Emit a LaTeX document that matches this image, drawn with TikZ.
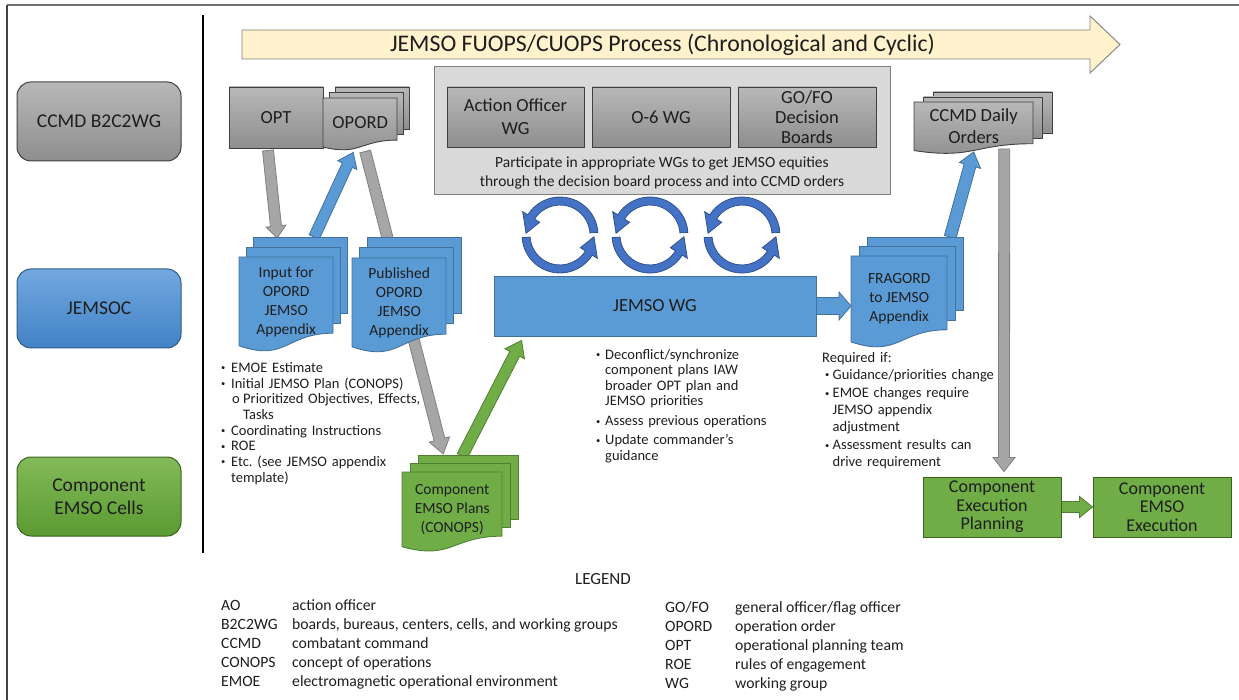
\documentclass[tikz,border=0pt]{standalone}
\usepackage{fontspec}
\setmainfont{Carlito}
\usepackage{graphicx}
\usetikzlibrary{calc}
\pgfdeclarelayer{back}
\pgfsetlayers{back,main}
\frenchspacing

\definecolor{ink}{HTML}{1E1E1E}
\definecolor{frameln}{HTML}{707070}
\definecolor{grayhi}{HTML}{B8B8B8}
\definecolor{graylo}{HTML}{8E8E8E}
\definecolor{grayedge}{HTML}{404040}
\definecolor{bluehi}{HTML}{72A8DF}
\definecolor{bluelo}{HTML}{4282C6}
\definecolor{blueedge}{HTML}{2E5C8A}
\definecolor{bluefill}{HTML}{5B9BD5}
\definecolor{blueline}{HTML}{41719C}
\definecolor{greenhi}{HTML}{82BA58}
\definecolor{greenlo}{HTML}{5C9A32}
\definecolor{greenedge}{HTML}{3B6320}
\definecolor{greenfill}{HTML}{70AD47}
\definecolor{greenline}{HTML}{507E32}
\definecolor{arrowgray}{HTML}{A6A6A6}
\definecolor{arrowgrayln}{HTML}{7F7F7F}
\definecolor{banner}{HTML}{FFF2CC}
\definecolor{panel}{HTML}{D9D9D9}
\definecolor{loopfill}{HTML}{4472C4}
\definecolor{loopline}{HTML}{2F528F}

\newcommand\fs[2]{\fontsize{#1}{#2}\selectfont}
\newcommand\bul{\raisebox{1.6pt}{\fs{8.5}{8.5}\textbullet}}
% bullet item: #1 lead space, #2 bullet box width, #3 text (lines split with \break)
\newcommand\bitemx[3]{\par\noindent\hangindent=\dimexpr#1+#2\relax\hangafter=1\hspace*{#1}\makebox[#2][l]{\bul}#3\par}
\newcommand\subitemx[1]{\par\noindent\hangindent=22pt\hangafter=1\hspace*{11pt}\makebox[11pt][l]{o}#1\par}

% one document page with a wavy lower edge: style, x, y, w, h
\newcommand\docpage[5]{%
  \pgfmathsetmacro\dpr{#2+#4}%
  \pgfmathsetmacro\dpm{#2+0.5*#4}%
  \pgfmathsetmacro\dpa{#3+0.802*#5}%
  \pgfmathsetmacro\dpb{#3+1.107*#5}%
  \pgfmathsetmacro\dpc{#3+0.934*#5}%
  \path[#1] (#2,#3) -- (\dpr,#3) -- (\dpr,\dpa) .. controls (\dpm,\dpa) and (\dpm,\dpb) .. (#2,\dpc) -- cycle;}
\def\mdsplit#1/#2\relax{\def\mddx{#1}\def\mddy{#2}}
% stack of three pages: name, page style, text style, x, y, w, h, dx/dy, text
\newcommand\multidoc[9]{%
  \mdsplit#8\relax
  \foreach \k in {2,1}{%
    \pgfmathsetmacro\mdx{#4+\k*\mddx}%
    \pgfmathsetmacro\mdy{#5-\k*\mddy}%
    \pgfmathsetmacro\mdr{0.802*#7}%
    \path[#2] (\mdx,\mdy) rectangle ++(#6,\mdr);
  }
  \docpage{#2}{#4}{#5}{#6}{#7}
  \node[#3, minimum width=#6, minimum height=0.934*#7, anchor=north west] (#1) at (#4,#5) {#9};
}
% block arrow: style, tail, tip, shaft half width, head half width, head length
\newcommand\blockarrow[6]{%
  \coordinate (ba-t) at (#2);
  \coordinate (ba-p) at (#3);
  \coordinate (ba-h) at ($(ba-p)!#6!(ba-t)$);
  \path[#1] ($(ba-t)!#4!90:(ba-p)$) -- ($(ba-h)!#4!90:(ba-p)$) -- ($(ba-h)!#5!90:(ba-p)$)
    -- (ba-p) -- ($(ba-h)!#5!-90:(ba-p)$) -- ($(ba-h)!#4!-90:(ba-p)$) -- ($(ba-t)!#4!-90:(ba-p)$) -- cycle;
}
% pair of curved arrows forming a cycle around a centre
\newcommand\cyclearrows[1]{%
  \begin{scope}[shift={(#1)}]
    \path[loopband] (-4:38) arc[start angle=-4, end angle=-148, radius=38] -- (-148:44) -- (-177:34)
      -- (-148:24) -- (-148:30) arc[start angle=-148, end angle=-4, radius=30] -- cycle;
    \path[loopband] (176:38) arc[start angle=176, end angle=32, radius=38] -- (32:44) -- (3:34)
      -- (32:24) -- (32:30) arc[start angle=32, end angle=176, radius=30] -- cycle;
  \end{scope}}

\tikzset{
  txt/.style={text=ink, inner sep=0pt, align=center},
  lanebox/.style={txt, rounded corners=14pt, minimum width=164, minimum height=79, line width=1pt, font=\fs{19.5}{23}},
  lanegray/.style={lanebox, draw=grayedge, top color=grayhi, bottom color=graylo},
  laneblue/.style={lanebox, draw=blueedge, top color=bluehi, bottom color=bluelo},
  lanegreen/.style={lanebox, draw=greenedge, top color=greenhi, bottom color=greenlo},
  graybox/.style={txt, draw=grayedge, line width=0.9pt, top color=grayhi, bottom color=graylo, minimum width=137, minimum height=60, font=\fs{18.5}{20}},
  greenbox/.style={txt, draw=greenedge, line width=0.9pt, fill=greenfill, minimum width=138, minimum height=60, font=\fs{18}{18.5}},
  graypage/.style={draw=grayedge, line width=0.9pt, top color=grayhi, bottom color=graylo},
  bluepage/.style={draw=blueline, line width=0.9pt, fill=bluefill},
  greenpage/.style={draw=greenline, line width=0.9pt, fill=greenfill},
  doctext/.style={txt, font=\fs{15.5}{19}},
  docbig/.style={txt, font=\fs{18.5}{22}},
  arrgray/.style={draw=arrowgrayln, fill=arrowgray, line width=0.8pt},
  arrblue/.style={draw=blueline, fill=bluefill, line width=0.8pt},
  arrgreen/.style={draw=greenline, fill=greenfill, line width=0.8pt},
  loopband/.style={draw=loopline, fill=loopfill, line width=0.8pt},
  notes/.style={text=ink, inner sep=0pt, align=left, anchor=north west, font=\fs{14.5}{15.7}},
  legendtxt/.style={text=ink, inner sep=0pt, anchor=north west, font=\fs{15.7}{19}},
}

\begin{document}
\begin{tikzpicture}[x=1pt,y=-1pt]
\useasboundingbox (0,0) rectangle (1239,700);

% frame and lane divider
\draw[frameln, line width=1.6pt] (7,5) -- (1239,5);
\draw[frameln!60!black, line width=1.6pt] (7,5) -- (7,700);
\draw[black, line width=1.6pt] (203,15) -- (203,553);

% lane labels
\node[lanegray] (lane-ccmd) at (99,121.5) {CCMD B2C2WG};
\node[laneblue] (lane-jemsoc) at (99,308.5) {JEMSOC};
\node[lanegreen] (lane-cells) at (99,496.5) {Component\\EMSO Cells};

% process banner
\path[draw=arrowgrayln, fill=banner, line width=0.9pt] (242,30) -- (1090,30) -- (1090,16) -- (1120,44.5)
  -- (1090,73) -- (1090,59) -- (242,59) -- cycle;
\node[txt, font=\fs{23.8}{26}] (banner) at (662.5,44.5) {JEMSO FUOPS/CUOPS Process (Chronological and Cyclic)};

% working group panel
\node[draw=arrowgrayln, fill=panel, line width=1pt, minimum width=456, minimum height=128, inner sep=0pt] (panel) at (662,131) {};
\node[graybox] (aowg) at (515.5,117) {Action Officer\\[3pt]WG};
\node[graybox, minimum width=138] (o6wg) at (661,117) {O-6 WG};
\node[graybox, minimum width=138] (gofo) at (807,117) {GO/FO\\Decision\\Boards};
\node[txt, font=\fs{15.5}{19}] (participate) at (662,173) {Participate in appropriate WGs to get JEMSO equities\\through the decision board process and into CCMD orders};

% cycles between the panel and the JEMSO WG
\foreach \n/\cx in {A/560, B/650, C/742} {
  \coordinate (cyc\n) at (\cx,235);
  \cyclearrows{cyc\n}
}

% JEMSO WG bar
\node[txt, draw=blueline, fill=bluefill, line width=0.9pt, minimum width=322, minimum height=60, font=\fs{18.5}{22}] (jemsowg) at (655,306) {JEMSO WG};

% OPT and documents
\node[graybox, minimum width=94, minimum height=61] (opt) at (276,117.5) {OPT};
\multidoc{opord}{graypage}{docbig}{323}{98}{74}{52.5}{6/5.5}{OPORD}
\multidoc{input}{bluepage}{doctext}{239}{257}{94}{95}{7/10}{Input for\\OPORD\\JEMSO\\Appendix}
\multidoc{published}{bluepage}{doctext}{352}{258}{94}{95}{7.5/10.5}{Published\\OPORD\\JEMSO\\Appendix}
\multidoc{fragord}{bluepage}{doctext}{851}{256}{96}{92}{8/9.5}{FRAGORD\\to JEMSO\\Appendix}
\multidoc{daily}{graypage}{docbig}{914}{102}{119}{52}{9.5/5}{CCMD Daily\\Orders}
\multidoc{plans}{greenpage}{doctext}{402}{472}{100}{80}{8/8.5}{Component\\EMSO Plans\\(CONOPS)}

% component execution
\node[greenbox] (execplan) at (992,507) {Component\\Execution\\Planning};
\node[greenbox] (execution) at (1162,507) {Component\\EMSO\\Execution};

% notes
\node[notes, text width=260pt] (notes-appx) at (221,356.5) {%
  \bitemx{0pt}{10pt}{EMOE Estimate}%
  \bitemx{0pt}{10pt}{Initial JEMSO Plan (CONOPS)}%
  \subitemx{Prioritized Objectives, Effects,\break Tasks}%
  \bitemx{0pt}{10pt}{Coordinating Instructions}%
  \bitemx{0pt}{10pt}{ROE}%
  \bitemx{0pt}{10pt}{Etc. (see JEMSO appendix\break template)}};
\node[notes, text width=200pt, font=\fs{14.5}{15.5}] (notes-wg) at (596,343.5) {%
  \bitemx{0pt}{9pt}{Deconflict/synchronize\break component plans IAW\break broader OPT plan and\break JEMSO priorities}%
  \vspace{4.5pt}%
  \bitemx{0pt}{9pt}{Assess previous operations}%
  \vspace{3.5pt}%
  \bitemx{0pt}{9pt}{Update commander’s\break guidance}};
\node[notes, text width=200pt, font=\fs{14.5}{17}] (notes-frag) at (822,352) {%
  \noindent Required if:\par
  \bitemx{3pt}{7.5pt}{Guidance/priorities change}%
  \vspace{1.5pt}%
  \bitemx{3pt}{7.5pt}{EMOE changes require\break JEMSO appendix\break adjustment}%
  \vspace{1pt}%
  \bitemx{3pt}{7.5pt}{Assessment results can\break drive requirement}};

% legend
\node[txt, font=\fs{17}{19}] (legend) at (603,579) {LEGEND};
\node[legendtxt] (legend-a) at (221,597) {\begin{tabular}{@{}p{71pt}@{}l@{}}
  AO & action officer\\
  B2C2WG & boards, bureaus, centers, cells, and working groups\\
  CCMD & combatant command\\
  CONOPS & concept of operations\\
  EMOE & electromagnetic operational environment
  \end{tabular}};
\node[legendtxt] (legend-b) at (665,599) {\begin{tabular}{@{}p{70pt}@{}l@{}}
  GO/FO & general officer/flag officer\\
  OPORD & operation order\\
  OPT & operational planning team\\
  ROE & rules of engagement\\
  WG & working group
  \end{tabular}};

% connectors
\begin{pgfonlayer}{back}
  \blockarrow{arrgray}{[shift={(-8,2)}]opt.south}{[shift={(-9,-19)}]input.north}{5.5pt}{10pt}{12pt}
  \blockarrow{arrblue}{[shift={(28,-20)}]input.north}{[shift={(-7,5)}]opord.south}{5.5pt}{10.5pt}{14pt}
  \blockarrow{arrgray}{[shift={(5,4)}]opord.south}{[shift={(-9,-18)}]plans.north}{5.5pt}{10.5pt}{15pt}
  \blockarrow{arrgreen}{[shift={(10,-16)}]plans.north}{[shift={(28,4)}]jemsowg.south west}{5.5pt}{11pt}{15pt}
  \blockarrow{arrblue}{jemsowg.east}{fragord.west |- jemsowg.east}{8.5pt}{14pt}{12pt}
  \blockarrow{arrblue}{[shift={(51,-19)}]fragord.north}{[shift={(0,1)}]daily.south}{6pt}{11pt}{14pt}
  \blockarrow{arrgray}{[shift={(30.5,-2)}]daily.south}{[shift={(12,-5)}]execplan.north}{5.5pt}{11pt}{14pt}
  \blockarrow{arrgreen}{execplan.east}{execution.west}{5.5pt}{10.5pt}{13pt}
\end{pgfonlayer}
\end{tikzpicture}
\end{document}
